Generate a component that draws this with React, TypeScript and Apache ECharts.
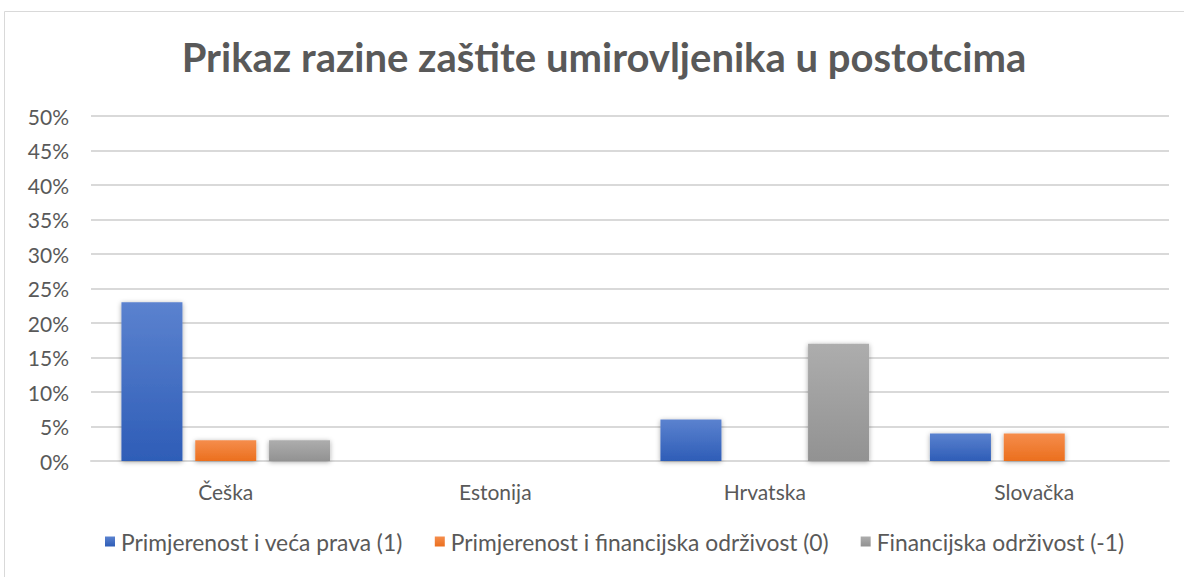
import React, { useEffect, useRef } from "react";
import * as echarts from "echarts";

const categories = ["Češka", "Estonija", "Hrvatska", "Slovačka"];
const seriesNames = [
  "Primjerenost i veća prava (1)",
  "Primjerenost i financijska održivost (0)",
  "Financijska održivost (-1)",
];
const adequacy = [23, 0, 6, 4];
const adequacySustainability = [3, 0, 0, 4];
const sustainability = [3, 0, 17, 0];
const yTicks = { min: 0, max: 50, interval: 5 };

const grad = (top: string, bottom: string) =>
  new echarts.graphic.LinearGradient(0, 0, 0, 1, [
    { offset: 0, color: top },
    { offset: 1, color: bottom },
  ]);

export default function App() {
  const ref = useRef<HTMLDivElement>(null);
  useEffect(() => {
    if (!ref.current) return;
    const chart = echarts.init(ref.current, undefined, { renderer: "svg" });
    const font = "Lato, 'Open Sans', sans-serif";
    const barStyle = (top: string, bottom: string) => ({
      color: grad(top, bottom),
      shadowBlur: 5,
      shadowColor: "rgba(0,0,0,0.35)",
      shadowOffsetY: 1,
    });
    chart.setOption({
      animation: false,
      backgroundColor: "#ffffff",
      textStyle: { fontFamily: font },
      graphic: [
        {
          type: "rect",
          shape: { x: 4.5, y: 11.5, width: 1300, height: 700 },
          style: { fill: "none", stroke: "#d9d9d9", lineWidth: 1 },
          silent: true,
          z: -10,
        },
      ],
      title: {
        text: "Prikaz razine zaštite umirovljenika u postotcima",
        left: 599,
        textAlign: "center",
        top: 32,
        textStyle: {
          fontFamily: font,
          fontSize: 40,
          fontWeight: "bold",
          color: "#595959",
        },
      },
      legend: {
        bottom: 19,
        left: 100,
        itemWidth: 10,
        itemHeight: 10,
        itemGap: 32,
        icon: "rect",
        textStyle: { fontFamily: font, fontSize: 22.8, color: "#595959", padding: [0, 0, 0, 1] },
        data: seriesNames,
      },
      grid: { left: 91, right: 15, top: 116, bottom: 116 },
      xAxis: {
        type: "category",
        data: categories,
        axisLine: { lineStyle: { color: "#d9d9d9", width: 2 } },
        axisTick: { show: false },
        axisLabel: { fontFamily: font, fontSize: 21, color: "#595959", margin: 20 },
      },
      yAxis: {
        type: "value",
        min: yTicks.min,
        max: yTicks.max,
        interval: yTicks.interval,
        axisLine: { show: false },
        axisTick: { show: false },
        splitLine: { lineStyle: { color: "#d9d9d9", width: 2 } },
        axisLabel: {
          formatter: "{value}%",
          fontFamily: font,
          fontSize: 21,
          color: "#595959",
          margin: 22,
        },
      },
      series: [
        {
          name: seriesNames[0],
          type: "bar",
          data: adequacy,
          barWidth: 61,
          barGap: "21%",
          itemStyle: barStyle("#5b82cf", "#2e5db7"),
        },
        {
          name: seriesNames[1],
          type: "bar",
          data: adequacySustainability,
          barWidth: 61,
          barGap: "21%",
          itemStyle: barStyle("#f58d4c", "#eb6f1e"),
        },
        {
          name: seriesNames[2],
          type: "bar",
          data: sustainability,
          barWidth: 61,
          barGap: "21%",
          itemStyle: barStyle("#adadad", "#929292"),
        },
      ],
    });
    return () => chart.dispose();
  }, []);
  return (
    <div
      ref={ref}
      style={{ position: "absolute", left: 0, top: 0, width: 1184, height: 577 }}
    />
  );
}
